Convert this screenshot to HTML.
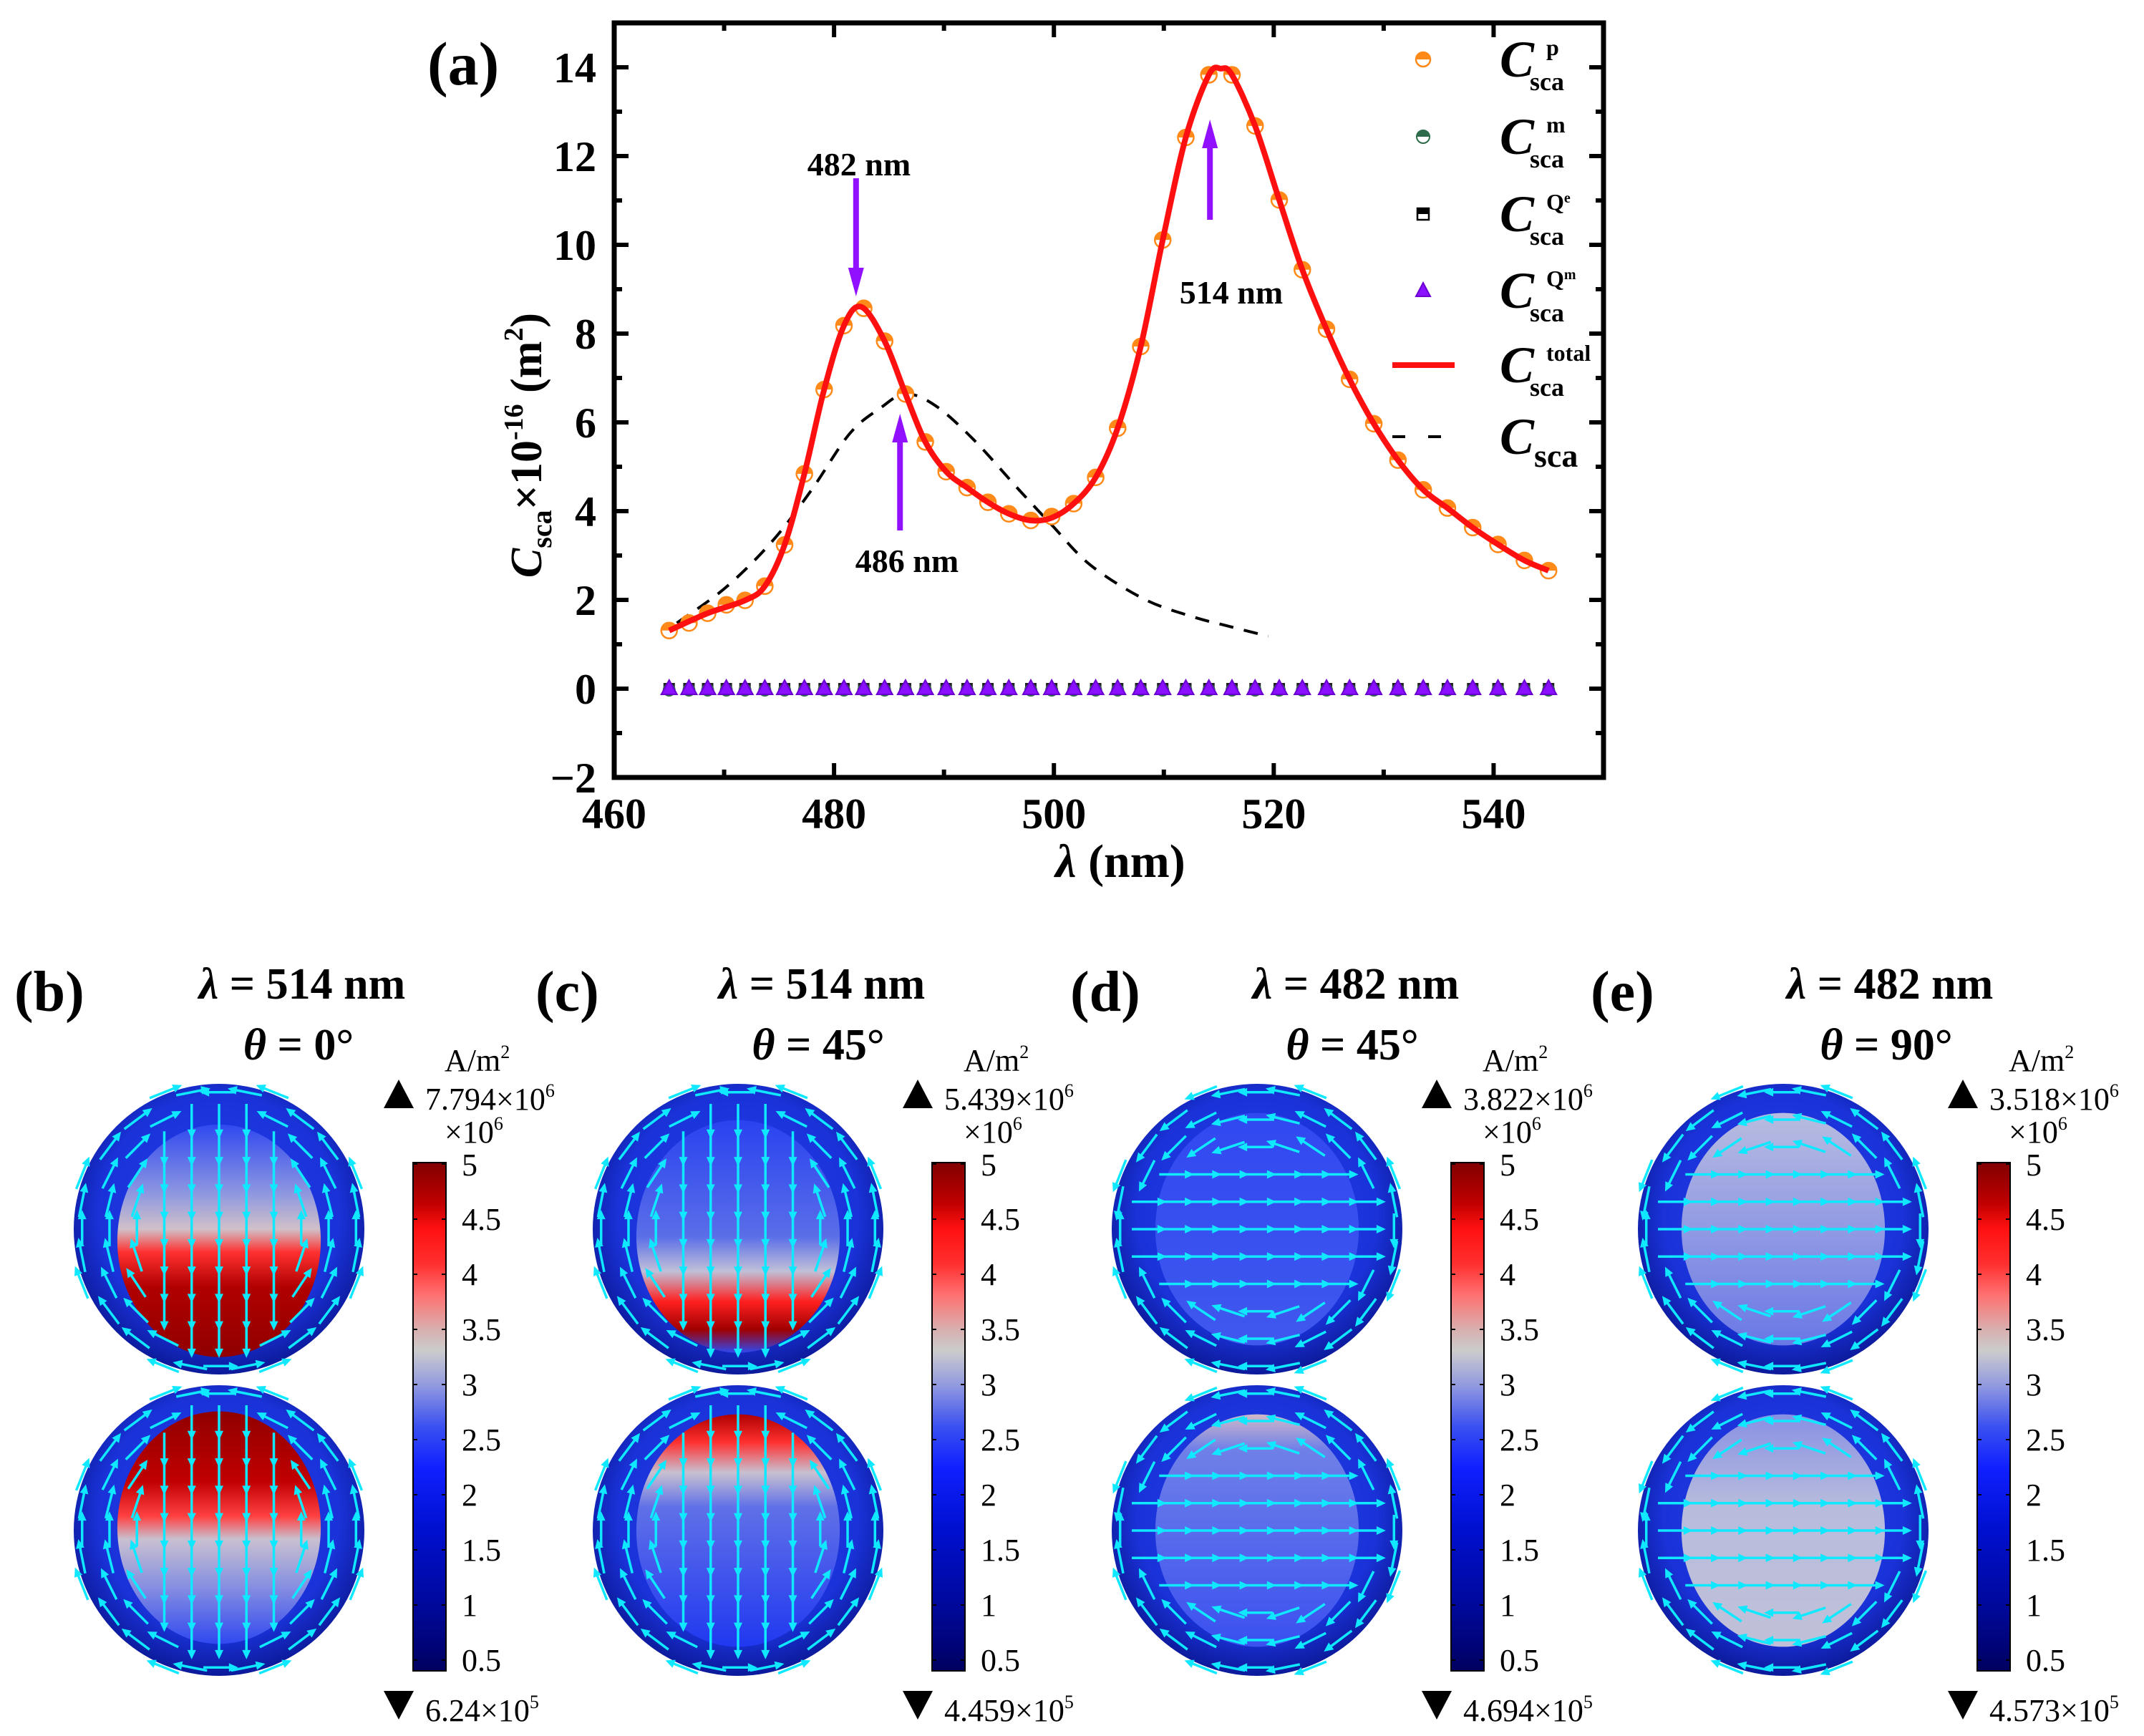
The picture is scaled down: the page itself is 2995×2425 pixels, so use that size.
<!DOCTYPE html>
<html><head><meta charset="utf-8"><style>
html,body{margin:0;padding:0;background:#fff}
svg, svg text{font-family:"Liberation Serif","DejaVu Serif",serif}
</style></head><body>
<svg id="fig" width="2995" height="2420" viewBox="0 0 2995 2420" xmlns="http://www.w3.org/2000/svg" font-family="Liberation Serif, DejaVu Serif, serif">
<defs>
<linearGradient id="cbar" x1="0" y1="0" x2="0" y2="1">
<stop offset="0" stop-color="#800000"/><stop offset="0.08" stop-color="#c00000"/><stop offset="0.13" stop-color="#ff1010"/><stop offset="0.2" stop-color="#ff3030"/><stop offset="0.26" stop-color="#ff7070"/><stop offset="0.33" stop-color="#d8b0b0"/><stop offset="0.37" stop-color="#cccccc"/><stop offset="0.44" stop-color="#9098e0"/><stop offset="0.52" stop-color="#3a50f0"/><stop offset="0.6" stop-color="#1020ff"/><stop offset="0.72" stop-color="#0010d0"/><stop offset="0.88" stop-color="#000898"/><stop offset="1" stop-color="#000060"/>
</linearGradient>
<radialGradient id="sph" cx="0.5" cy="0.45" r="0.55"><stop offset="0" stop-color="#2440f0"/><stop offset="0.75" stop-color="#1a32d8"/><stop offset="1" stop-color="#0c1a9a"/></radialGradient>
<linearGradient id="gbTop" x1="0" y1="0" x2="0" y2="1"><stop offset="0" stop-color="#3048f0"/><stop offset="0.3" stop-color="#8f98e0"/><stop offset="0.45" stop-color="#d0c0c8"/><stop offset="0.55" stop-color="#ff3030"/><stop offset="0.7" stop-color="#b00000"/><stop offset="1" stop-color="#900000"/></linearGradient>
<linearGradient id="gbBot" x1="0" y1="0" x2="0" y2="1"><stop offset="0" stop-color="#900000"/><stop offset="0.3" stop-color="#c00000"/><stop offset="0.45" stop-color="#ff4040"/><stop offset="0.55" stop-color="#c8c0d0"/><stop offset="0.75" stop-color="#8890e0"/><stop offset="1" stop-color="#3048f0"/></linearGradient>
<linearGradient id="gcTop" x1="0" y1="0" x2="0" y2="1"><stop offset="0" stop-color="#2a42f0"/><stop offset="0.5" stop-color="#5a6ee8"/><stop offset="0.65" stop-color="#c0c0d8"/><stop offset="0.78" stop-color="#ff2020"/><stop offset="0.9" stop-color="#a00000"/><stop offset="1" stop-color="#3048f0"/></linearGradient>
<linearGradient id="gcBot" x1="0" y1="0" x2="0" y2="1"><stop offset="0" stop-color="#b00000"/><stop offset="0.12" stop-color="#ff3030"/><stop offset="0.25" stop-color="#c8c0d0"/><stop offset="0.4" stop-color="#6070e8"/><stop offset="1" stop-color="#2038f0"/></linearGradient>
<linearGradient id="gdTop" x1="0" y1="0" x2="0" y2="1"><stop offset="0" stop-color="#3048f0"/><stop offset="1" stop-color="#4058ee"/></linearGradient>
<linearGradient id="gdBot" x1="0" y1="0" x2="0" y2="1"><stop offset="0" stop-color="#d0b8c8"/><stop offset="0.15" stop-color="#7080e8"/><stop offset="1" stop-color="#3a50f0"/></linearGradient>
<linearGradient id="geTop" x1="0" y1="0" x2="0" y2="1"><stop offset="0" stop-color="#b8bce0"/><stop offset="1" stop-color="#6a78e6"/></linearGradient>
<linearGradient id="geBot" x1="0" y1="0" x2="0" y2="1"><stop offset="0" stop-color="#8890e4"/><stop offset="0.4" stop-color="#b8bcdc"/><stop offset="1" stop-color="#c0c0d8"/></linearGradient>
</defs>
<g id="chartA"></g>
<g id="panels"></g>
</svg>
<script>
const NS="http://www.w3.org/2000/svg";
// ---- chart data ----
const wavelengths=[465.0,466.8,468.5,470.2,471.9,473.7,475.5,477.3,479.1,480.9,482.7,484.6,486.5,488.3,490.2,492.1,494.0,495.9,497.9,499.8,501.8,503.8,505.8,507.9,509.9,512.0,514.1,516.2,518.3,520.5,522.6,524.8,526.9,529.1,531.3,533.6,535.8,538.1,540.4,542.8,545.0];
const cscaP=[1.31,1.48,1.70,1.89,1.99,2.31,3.24,4.84,6.74,8.18,8.57,7.83,6.64,5.56,4.89,4.53,4.20,3.94,3.79,3.88,4.17,4.76,5.87,7.71,10.11,12.42,13.83,13.83,12.68,11.01,9.44,8.10,6.97,5.97,5.15,4.48,4.07,3.63,3.25,2.89,2.66];
const cscaM=wavelengths.map(()=>0);
const cscaQe=wavelengths.map(()=>0);
const cscaQm=wavelengths.map(()=>0);
const totalX=[465.0,468.5,471.9,473.7,475.5,477.3,479.1,480.9,482.5,484.6,486.5,488.3,490.2,492.1,494.0,495.9,497.9,499.8,501.8,503.8,505.8,507.9,509.9,512.0,514.1,515.2,516.2,518.3,520.5,522.6,524.8,526.9,529.1,531.3,533.6,535.8,538.1,540.4,542.8,545.0];
const totalY=[1.31,1.70,1.99,2.31,3.24,4.84,6.74,8.18,8.6,7.83,6.64,5.56,4.89,4.53,4.20,3.94,3.79,3.85,4.17,4.76,5.87,7.71,10.11,12.42,13.83,13.97,13.83,12.68,11.01,9.44,8.10,6.97,5.97,5.15,4.48,4.07,3.63,3.25,2.89,2.66];
const dashX=[465.7,470.1,474.3,477.9,481.4,484.2,486.5,489.2,492.7,496.9,499.8,503.3,508.2,512.5,516.0,519.5];
const dashY=[1.48,2.27,3.30,4.46,5.74,6.32,6.64,6.38,5.61,4.46,3.69,2.79,2.02,1.63,1.40,1.18];
const xTicks=[460,480,500,520,540];
const xTickLabels=["460","480","500","520","540"];
const yTicks=[-2,0,2,4,6,8,10,12,14];
const yTickLabels=["\u22122","0","2","4","6","8","10","12","14"];
const arrowX=[482,486,514];
const arrowLabels=["482 nm","486 nm","514 nm"];

const FF="Liberation Serif, DejaVu Serif, serif";
const X0=858,X1=2240,Y0=32,Y1=1086,XMIN=460,XMAX=550,YMIN=-2,YMAX=15;
function xs(v){return X0+(v-XMIN)/(XMAX-XMIN)*(X1-X0);}
function ys(v){return Y1-(v-YMIN)/(YMAX-YMIN)*(Y1-Y0);}
function mk(tag,attrs,parent){const e=document.createElementNS(NS,tag);if(tag==="text")e.setAttribute("font-family",FF);for(const k in attrs)e.setAttribute(k,attrs[k]);if(parent)parent.appendChild(e);return e;}
function smooth(px,py){let d="M"+px[0]+","+py[0];for(let i=0;i<px.length-1;i++){const x0=px[Math.max(0,i-1)],y0=py[Math.max(0,i-1)],x1=px[i],y1=py[i],x2=px[i+1],y2=py[i+1],x3=px[Math.min(px.length-1,i+2)],y3=py[Math.min(px.length-1,i+2)];d+=" C"+(x1+(x2-x0)/6)+","+(y1+(y2-y0)/6)+" "+(x2-(x3-x1)/6)+","+(y2-(y3-y1)/6)+" "+x2+","+y2;}return d;}
const A=document.getElementById("chartA");
const frame=mk("rect",{x:X0,y:Y0,width:X1-X0,height:Y1-Y0,fill:"none",stroke:"#000","stroke-width":7},A);


for(let v=460;v<=550;v+=10){const maj=(v%20===0);const L=maj?20:11;const x=xs(v);
 const t1=mk("line",{x1:x,x2:x,y1:Y1,y2:Y1-L,stroke:"#000","stroke-width":6},A);
 const t2=mk("line",{x1:x,x2:x,y1:Y0,y2:Y0+L,stroke:"#000","stroke-width":6},A);}
for(let v=-2;v<=15;v+=1){const maj=(v%2===0);const L=maj?20:11;const y=ys(v);
 const t1=mk("line",{x1:X0,x2:X0+L,y1:y,y2:y,stroke:"#000","stroke-width":6},A);
 const t2=mk("line",{x1:X1,x2:X1-L,y1:y,y2:y,stroke:"#000","stroke-width":6},A);}
xTicks.forEach((v,i)=>{const t=mk("text",{x:xs(v),y:1157,"text-anchor":"middle","font-size":60,"font-weight":"bold"},A);t.textContent=xTickLabels[i];});
yTicks.forEach((v,i)=>{const t=mk("text",{x:833,y:ys(v)+21,"text-anchor":"end","font-size":60,"font-weight":"bold"},A);t.textContent=yTickLabels[i];});
const dp=mk("path",{d:smooth(dashX.map(xs),dashY.map(ys)),fill:"none",stroke:"#000","stroke-width":4,"stroke-dasharray":"20 15"},A);

wavelengths.forEach((w,i)=>{const x=xs(w);
 const sq=mk("rect",{x:x-8,y:ys(cscaQe[i])-8,width:16,height:16,fill:"#222"},A);
 const hx=mk("circle",{cx:x,cy:ys(cscaM[i])+2,r:9,fill:"#2d6b4a"},A);
 const y=ys(cscaQm[i]);
 const tr=mk("path",{d:`M${x},${y-12} L${x+11},${y+8} L${x-11},${y+8} Z`,fill:"#8a10ff",stroke:"#6a00d0","stroke-width":2},A);});
function halfCircle(x,y,r,parent,name){const g=mk("g",{},parent);
 mk("circle",{cx:x,cy:y,r:r,fill:"#fff",stroke:"#ff8a1a","stroke-width":2.5},g);
 mk("path",{d:`M${x-r},${y} A${r},${r} 0 0 1 ${x+r},${y} Z`,fill:"#ff8a1a"},g);return g;}
wavelengths.forEach((w,i)=>{halfCircle(xs(w),ys(cscaP[i]),11,A,'cp-marker');});
const tl=mk("path",{d:smooth(totalX.map(xs),totalY.map(ys)),fill:"none",stroke:"#ff1010","stroke-width":8,"stroke-linejoin":"round"},A);

const arrowSpec=[{y1:249,y2:414,lx:1200,ly:245},{y1:741,y2:578,lx:1267,ly:799},{y1:307,y2:167,lx:1720,ly:424}];
arrowX.forEach((v,i)=>{const s=arrowSpec[i];const x=xs(v)+(i===2?3:0);const g=mk("g",{},A);
 const dir=s.y2>s.y1?1:-1;const hb=s.y2-dir*40;
 mk("line",{x1:x,x2:x,y1:s.y1,y2:hb,stroke:"#9010ff","stroke-width":8},g);
 mk("path",{d:`M${x-11},${hb} L${x+11},${hb} L${x},${s.y2} Z`,fill:"#9010ff"},g);
 const t=mk("text",{x:s.lx,y:s.ly,"text-anchor":"middle","font-size":46,"font-weight":"bold"},A);t.textContent=arrowLabels[i];});
function txt(parent,html,attrs,name){const t=mk("text",attrs,parent);t.innerHTML=html;return t;}
txt(A,"(a)",{x:597,y:118,"font-size":86,"font-weight":"bold"},'panel-a-label');
txt(A,'<tspan font-style="italic">λ</tspan> (nm)',{x:1565,y:1225,"text-anchor":"middle","font-size":66,"font-weight":"bold"},'x-axis-title');
txt(A,'<tspan font-style="italic">C</tspan><tspan font-size="40" dy="14">sca</tspan><tspan dy="-14">×10</tspan><tspan font-size="38" dy="-26">-16</tspan><tspan dy="26"> (m</tspan><tspan font-size="38" dy="-26">2</tspan><tspan dy="26">)</tspan>',{x:0,y:0,"text-anchor":"middle","font-size":62,"font-weight":"bold",transform:"translate(756,622) rotate(-90)"},'y-axis-title');
const legRows=[83,191,299,406,510,610];
const legSup=["p","m","Q<tspan font-size=\"20\" dy=\"-10\">e</tspan>","Q<tspan font-size=\"20\" dy=\"-10\">m</tspan>","total",""];
const LG=mk("g",{},A);
halfCircle(1988,legRows[0],10,LG,'legend-cp-symbol');
(function(){const g=mk("g",{},LG);mk("circle",{cx:1988,cy:legRows[1],r:9,fill:"#fff",stroke:"#2d6b4a","stroke-width":2},g);mk("path",{d:`M1979,${legRows[1]} A9,9 0 0 1 1997,${legRows[1]} Z`,fill:"#2d6b4a"},g);})();
(function(){const g=mk("g",{},LG);mk("rect",{x:1980,y:legRows[2]-8,width:16,height:16,fill:"#fff",stroke:"#000","stroke-width":2.5},g);mk("rect",{x:1980,y:legRows[2]-8,width:16,height:8,fill:"#000"},g);})();
(function(){const g=mk("g",{},LG);const y=legRows[3];mk("path",{d:`M1988,${y-11} L1998,${y+8} L1978,${y+8} Z`,fill:"#8a10ff",stroke:"#6a00d0","stroke-width":2},g);})();
(function(){const l=mk("line",{x1:1945,x2:2032,y1:legRows[4],y2:legRows[4],stroke:"#ff1010","stroke-width":8},LG);})();
(function(){const l=mk("line",{x1:1945,x2:2032,y1:legRows[5],y2:legRows[5],stroke:"#000","stroke-width":4,"stroke-dasharray":"18 32"},LG);})();
legRows.forEach((y,i)=>{const name='legend-label-'+i;
 if(i<5){txt(LG,'<tspan font-style="italic" font-size="72">C</tspan>',{x:2095,y:y+24,"font-weight":"bold"},name);
  txt(LG,'sca',{x:2137,y:y+43,"font-size":36,"font-weight":"bold"},name+'-sub');
  txt(LG,legSup[i],{x:2160,y:y-6,"font-size":32,"font-weight":"bold"},name+'-sup');}
 else{txt(LG,'<tspan font-style="italic" font-size="72">C</tspan><tspan font-size="46" dy="18">sca</tspan>',{x:2095,y:y+24,"font-weight":"bold"},name);}
});

// ---- bottom panels ----
const P=document.getElementById("panels");
const panels=[
 {lab:"(b)",lx:20,tx:422,wl:"514",th:"0",off:0,max:"7.794",maxe:"6",min:"6.24",mine:"5",top:"gbTop",bot:"gbBot",mode:"v",ty:0.08,by:-0.02},
 {lab:"(c)",lx:748,tx:1148,wl:"514",th:"45",off:725,max:"5.439",maxe:"6",min:"4.459",mine:"5",top:"gcTop",bot:"gcBot",mode:"v",ty:0.05,by:0.0},
 {lab:"(d)",lx:1495,tx:1894,wl:"482",th:"45",off:1450,max:"3.822",maxe:"6",min:"4.694",mine:"5",top:"gdTop",bot:"gdBot",mode:"h",ty:0.0,by:0.0},
 {lab:"(e)",lx:2222,tx:2640,wl:"482",th:"90",off:2185,max:"3.518",maxe:"6",min:"4.573",mine:"5",top:"geTop",bot:"geBot",mode:"h",ty:0.0,by:0.0}
];
const cbLabels=["5","4.5","4","3.5","3","2.5","2","1.5","1","0.5"];
function arrow(g,x,y,dx,dy,L){const ex=x+dx*L*0.55,ey=y+dy*L*0.55;const px=-dy,py=dx;
 mk("line",{x1:x-dx*L*0.45,y1:y-dy*L*0.45,x2:ex-dx*8,y2:ey-dy*8,stroke:"#10e8ff","stroke-width":3.5},g);
 mk("path",{d:`M${ex},${ey} L${ex-dx*13+px*6},${ey-dy*13+py*6} L${ex-dx*13-px*6},${ey-dy*13-py*6} Z`,fill:"#10e8ff"},g);}
function sphere(g,cx,cy,r,grad,mode,shift,pi){
 const s=mk("g",{},g);
 mk("circle",{cx:cx,cy:cy,r:r,fill:"url(#sph)"},s);
 const cid="clip"+pi+"_"+Math.round(cy);const cp=mk("clipPath",{id:cid},s);mk("circle",{cx:cx,cy:cy,r:r-2},cp);
 mk("ellipse",{cx:cx,cy:cy+shift*r,rx:r*0.7,ry:r*0.8,fill:"url(#"+grad+")","clip-path":"url(#"+cid+")"},s);
 const ag=mk("g",{},s);
 const step=r/5.2;
 for(let j=-6;j<=6;j++)for(let i=-6;i<=6;i++){const u=i/5.2,v=j/5.2;const rr=Math.hypot(u,v);if(rr>1.08)continue;
  let dx,dy;
  if(mode==="v"){ if(Math.abs(u)<0.5&&rr<0.85){dx=0;dy=1;} else if(u<0){dx=-v;dy=u;} else {dx=v;dy=-u;} }
  else { if(Math.abs(v)<0.55&&rr<0.85){dx=1;dy=0;} else if(v<0){dx=v;dy=-u;} else {dx=-v;dy=u;} }
  const n=Math.hypot(dx,dy)||1;arrow(ag,cx+u*r*0.98,cy+v*r*0.98,dx/n,dy/n,step*1.25);}
}
panels.forEach((p,pi)=>{
 const g=mk("g",{},P);
 txt(g,p.lab,{x:p.lx,y:1412,"font-size":80,"font-weight":"bold"},'panel-label');
 txt(g,'<tspan font-style="italic">λ</tspan> = '+p.wl+' nm',{x:p.tx,y:1395,"text-anchor":"middle","font-size":62,"font-weight":"bold"},'wavelength-title');
 txt(g,'<tspan font-style="italic">θ</tspan> = '+p.th+'°',{x:p.tx-5,y:1480,"text-anchor":"middle","font-size":62,"font-weight":"bold"},'angle-title');
 const cx=306+p.off;
 sphere(g,cx,1717,203,p.top,p.mode,p.ty,pi);
 sphere(g,cx,2138,203,p.bot,p.mode,p.by,pi);
 const bx=577+p.off;
 const cb=mk("rect",{x:bx,y:1624,width:46,height:710,fill:"url(#cbar)",stroke:"#000","stroke-width":2},g);
 cbLabels.forEach((l,k)=>{const y=1626+k*77;
  mk("line",{x1:bx,x2:bx+6,y1:y,y2:y,stroke:"#000","stroke-width":2},g);mk("line",{x1:bx+40,x2:bx+46,y1:y,y2:y,stroke:"#000","stroke-width":2},g);
  txt(g,l,{x:bx+68,y:y+(k===0?16:15),"font-size":44},'colorbar-tick-label');});
 txt(g,'A/m<tspan font-size="26" dy="-18">2</tspan>',{x:bx+44,y:1496,"font-size":44},'unit-label');
 const up=mk("path",{d:`M${bx-20},1508 L${bx+1},1548 L${bx-41},1548 Z`,fill:"#000"},g);
 txt(g,p.max+'×10<tspan font-size="26" dy="-18">'+p.maxe+'</tspan>',{x:bx+17,y:1550,"font-size":44},'max-value');
 txt(g,'×10<tspan font-size="26" dy="-18">6</tspan>',{x:bx+44,y:1596,"font-size":44},'colorbar-scale');
 const dn=mk("path",{d:`M${bx-41},2362 L${bx+1},2362 L${bx-20},2402 Z`,fill:"#000"},g);
 txt(g,p.min+'×10<tspan font-size="26" dy="-18">'+p.mine+'</tspan>',{x:bx+17,y:2404,"font-size":44},'min-value');
});
</script>
</body></html>
